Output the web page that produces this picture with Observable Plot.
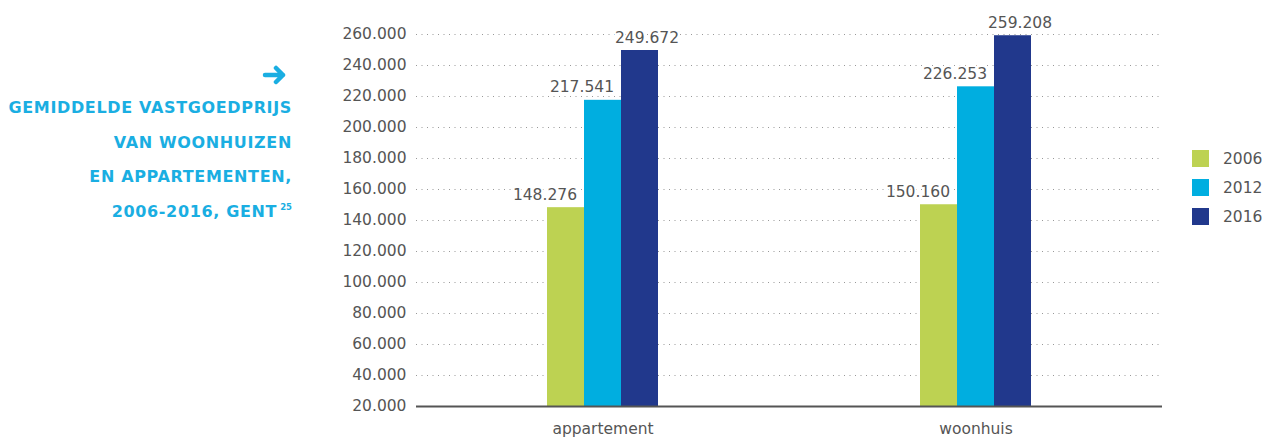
<!DOCTYPE html>
<html>
<head>
<meta charset="utf-8">
<script src="https://cdn.jsdelivr.net/npm/d3@7"></script>
<script src="https://cdn.jsdelivr.net/npm/@observablehq/plot@0.6"></script>
<style>
  html, body { margin: 0; padding: 0; background: #fff; }
  #wrap { position: relative; width: 1266px; height: 437px; overflow: hidden; }
  #chart { position: absolute; left: 0; top: 0; }
  #title {
    position: absolute; right: calc(1266px - 292px); top: 59px;
    text-align: right; color: #1aaee2;
    font-family: "DejaVu Sans", sans-serif; font-weight: bold;
    font-size: 16px; letter-spacing: 0.65px; line-height: 34.5px; white-space: nowrap;
  }
  #title .arrowline { height: 32px; position: relative; }
  #title .arrowline svg { position: absolute; right: 4px; top: 6px; }
  #title .sup { font-size: 8.5px; position: relative; top: -7px; line-height: 0; letter-spacing: 0; margin-left: 3px; }
  #legend { position: absolute; left: 1192px; top: 150px; font-family: "DejaVu Sans", sans-serif; font-size: 15.5px; color: #555; }
  #legend .item { display: flex; align-items: center; height: 17px; margin-bottom: 12px; }
  #legend .sw { width: 17px; height: 17px; margin-right: 14px; }
</style>
</head>
<body>
<div id="wrap">
  <div id="chart"></div>
  <div id="title">
    <div class="arrowline"><svg width="26" height="20" viewBox="0 0 26 20"><path d="M3 10 H21 M14 3 L21 10 L14 17" fill="none" stroke="#1aaee2" stroke-width="4.5" stroke-linecap="round" stroke-linejoin="round"/></svg></div>
    <div>GEMIDDELDE VASTGOEDPRIJS</div>
    <div>VAN WOONHUIZEN</div>
    <div>EN APPARTEMENTEN,</div>
    <div>2006-2016, GENT<span class="sup">25</span></div>
  </div>
  <div id="legend"></div>
</div>
<script>
const categories = ["appartement", "woonhuis"];
const years = ["2006", "2012", "2016"];
const values2006 = [148276, 150160];
const values2012 = [217541, 226253];
const values2016 = [249672, 259208];
const yTicks = [20000, 40000, 60000, 80000, 100000, 120000, 140000, 160000, 180000, 200000, 220000, 240000, 260000];
const colors = ["#bdd252", "#00aee0", "#21388c"];

const seriesValues = [values2006, values2012, values2016];
const data = [];
categories.forEach((c, i) => years.forEach((y, j) => data.push({category: c, year: y, value: seriesValues[j][i]})));

const nl = d3.formatLocale({decimal: ",", thousands: ".", grouping: [3], currency: ["€", ""]});
const fmt = nl.format(",");

const halo = {stroke: "white", strokeWidth: 4, fill: "#555", fontSize: 15.5, lineAnchor: "bottom", dy: -8};

const chart = Plot.plot({
  width: 1266,
  height: 437,
  marginLeft: 415,
  marginRight: 104,
  marginTop: 34,
  marginBottom: 31,
  style: {fontFamily: "DejaVu Sans, sans-serif", fontSize: "15.5px", color: "#555", background: "transparent"},
  fx: {domain: categories, padding: 0, label: null, axis: "bottom", tickSize: 0, tickPadding: 16},
  x: {domain: years, paddingInner: 0, paddingOuter: 3.43, axis: null},
  y: {domain: [20000, 260000], ticks: yTicks, tickFormat: fmt, tickSize: 0, tickPadding: 10, label: null},
  color: {domain: years, range: colors},
  marks: [
    Plot.ruleY(yTicks.slice(1), {stroke: "#999", strokeDasharray: "1,4.5", strokeWidth: 1}),
    Plot.barY(data, {fx: "category", x: "year", y1: 20000, y2: "value", fill: "year"}),
    Plot.ruleY([20000], {stroke: "#555", strokeWidth: 2}),
    Plot.text(data.filter(d => d.year !== "2016"), {fx: "category", x: "year", y: "value", text: d => fmt(d.value), textAnchor: "end", dx: 11, ...halo}),
    Plot.text(data.filter(d => d.year === "2016"), {fx: "category", x: "year", y: "value", text: d => fmt(d.value), textAnchor: "start", dx: -25, ...halo})
  ]
});
document.getElementById("chart").appendChild(chart);

const legend = document.getElementById("legend");
years.forEach((y, i) => {
  const it = document.createElement("div");
  it.className = "item";
  it.innerHTML = `<div class="sw" style="background:${colors[i]}"></div><span>${y}</span>`;
  legend.appendChild(it);
});
</script>
</body>
</html>
